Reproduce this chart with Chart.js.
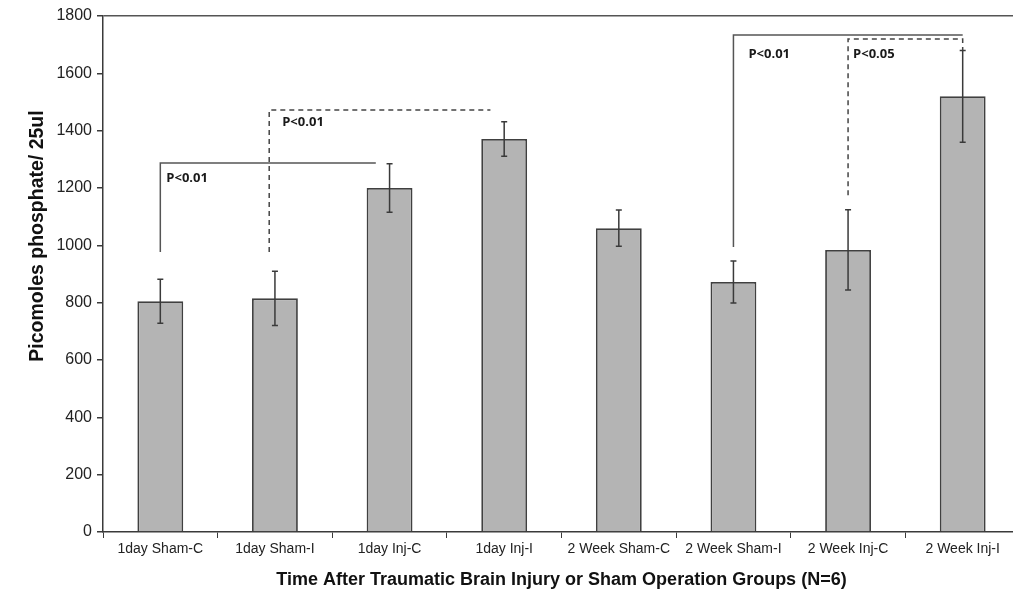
<!DOCTYPE html>
<html>
<head>
<meta charset="utf-8">
<script src="https://cdn.jsdelivr.net/npm/chart.js@4.4.1/dist/chart.umd.min.js"></script>
<style>
  html, body { margin: 0; padding: 0; background: #fff; overflow: hidden; }
  #wrap { width: 1013px; height: 602px; overflow: hidden; }
</style>
</head>
<body>
<div id="wrap"><canvas id="chart" width="1020" height="602"></canvas></div>
<script>
// groups and measured values (picomoles phosphate / 25ul)
const groups = ['1day Sham-C', '1day Sham-I', '1day Inj-C', '1day Inj-I',
  '2 Week Sham-C', '2 Week Sham-I', '2 Week Inj-C', '2 Week Inj-I'];
const means = [805, 815, 1200, 1371, 1060, 872, 984, 1520];
const errors = [77, 95, 85, 60, 63, 73, 140, 160];
const yTicks = [0, 200, 400, 600, 800, 1000, 1200, 1400, 1600, 1800];

// significance brackets: group index of each leg, low/high values of the legs
const bracketFrom = [0, 0.95, 5, 6];
const bracketTo = [1.88, 2.88, 7, 7];
const bracketLow = [977, 977, 994, 1175];
const bracketHigh = [1287, 1472, 1734, 1720];
const bracketDrop = [null, null, null, 1681];
const bracketDashed = [false, true, false, true];
const bracketText = ['P<0.01', 'P<0.01', 'P<0.01', 'P<0.05'];

const ink = '#3a3a3a';
const yTitle = 'Picomoles phosphate/ 25ul';

const errorBarsAndBrackets = {
  id: 'errorBarsAndBrackets',
  afterDatasetsDraw(chart) {
    const { ctx, scales: { x, y } } = chart;
    const catW = x.width / groups.length;
    const px = v => x.getPixelForTick(Math.floor(v)) + (v - Math.floor(v)) * catW;
    // label nudges relative to each bracket corner
    const dx = [6, 13, 15, 5];
    const dy = [15, 12, 19, 15];
    ctx.save();

    // error bars
    ctx.strokeStyle = ink;
    ctx.lineWidth = 1.5;
    means.forEach((m, i) => {
      const cx = x.getPixelForTick(i);
      const top = y.getPixelForValue(m + errors[i]);
      const bot = y.getPixelForValue(m - errors[i]);
      ctx.beginPath();
      ctx.moveTo(cx, top); ctx.lineTo(cx, bot);
      ctx.moveTo(cx - 3, top); ctx.lineTo(cx + 3, top);
      ctx.moveTo(cx - 3, bot); ctx.lineTo(cx + 3, bot);
      ctx.stroke();
    });

    // brackets
    ctx.font = 'bold 13px "Open Sans", sans-serif';
    ctx.textBaseline = 'middle';
    ctx.fillStyle = '#1a1a1a';
    bracketFrom.forEach((f, i) => {
      const x1 = px(f), x2 = px(bracketTo[i]);
      const yl = y.getPixelForValue(bracketLow[i]);
      const yh = y.getPixelForValue(bracketHigh[i]);
      ctx.strokeStyle = bracketDashed[i] ? '#444' : '#555';
      ctx.setLineDash(bracketDashed[i] ? [5, 4] : []);
      ctx.lineWidth = 1.5;
      ctx.beginPath();
      ctx.moveTo(x1, yl); ctx.lineTo(x1, yh); ctx.lineTo(x2, yh);
      if (bracketDrop[i] !== null) ctx.lineTo(x2, y.getPixelForValue(bracketDrop[i]));
      ctx.stroke();
      ctx.setLineDash([]);
      ctx.fillText(bracketText[i], x1 + dx[i], yh + dy[i]);
    });

    // y axis title (sits above the axis centre in the original)
    ctx.translate(38, 236);
    ctx.rotate(-Math.PI / 2);
    ctx.textAlign = 'center';
    ctx.fillStyle = '#111';
    ctx.font = 'bold 19.5px "Liberation Sans", Arial, sans-serif';
    ctx.fillText(yTitle, 0, 0);
    ctx.restore();
  }
};

new Chart(document.getElementById('chart'), {
  type: 'bar',
  data: {
    labels: groups,
    datasets: [{
      data: means,
      backgroundColor: '#b4b4b4',
      borderColor: '#404040',
      borderWidth: 1.8,
      barPercentage: 0.4,
      categoryPercentage: 1.0
    }]
  },
  options: {
    responsive: false,
    animation: false,
    layout: { padding: { left: 20, top: 16, right: 0, bottom: 0 } },
    plugins: { legend: { display: false }, tooltip: { enabled: false } },
    scales: {
      x: {
        afterFit: s => { s.height = 70; },
        border: { color: ink, width: 1.5 },
        grid: { drawOnChartArea: false, tickLength: 6, color: ink, offset: true },
        ticks: { color: '#222', padding: 3, font: { family: 'Liberation Sans', size: 14 }, maxRotation: 0, autoSkip: false },
        title: {
          display: true,
          text: 'Time After Traumatic Brain Injury or Sham Operation Groups (N=6)',
          color: '#111',
          font: { family: 'Liberation Sans', size: 18, weight: 'bold' },
          padding: { top: 0, bottom: 11 }
        }
      },
      y: {
        min: 0,
        max: 1800,
        afterFit: s => { s.width = 83; },
        afterBuildTicks: s => { s.ticks = yTicks.map(v => ({ value: v })); },
        border: { color: ink, width: 1.5 },
        grid: {
          drawOnChartArea: true,
          tickLength: 6,
          tickColor: ink,
          lineWidth: 1.5,
          color: c => (c.tick && c.tick.value === 1800 ? '#555' : 'transparent')
        },
        ticks: {
          color: '#222',
          padding: 5,
          font: { family: 'Liberation Sans', size: 16 },
          callback: v => String(v)
        }
      }
    }
  },
  plugins: [errorBarsAndBrackets]
});
</script>
</body>
</html>
